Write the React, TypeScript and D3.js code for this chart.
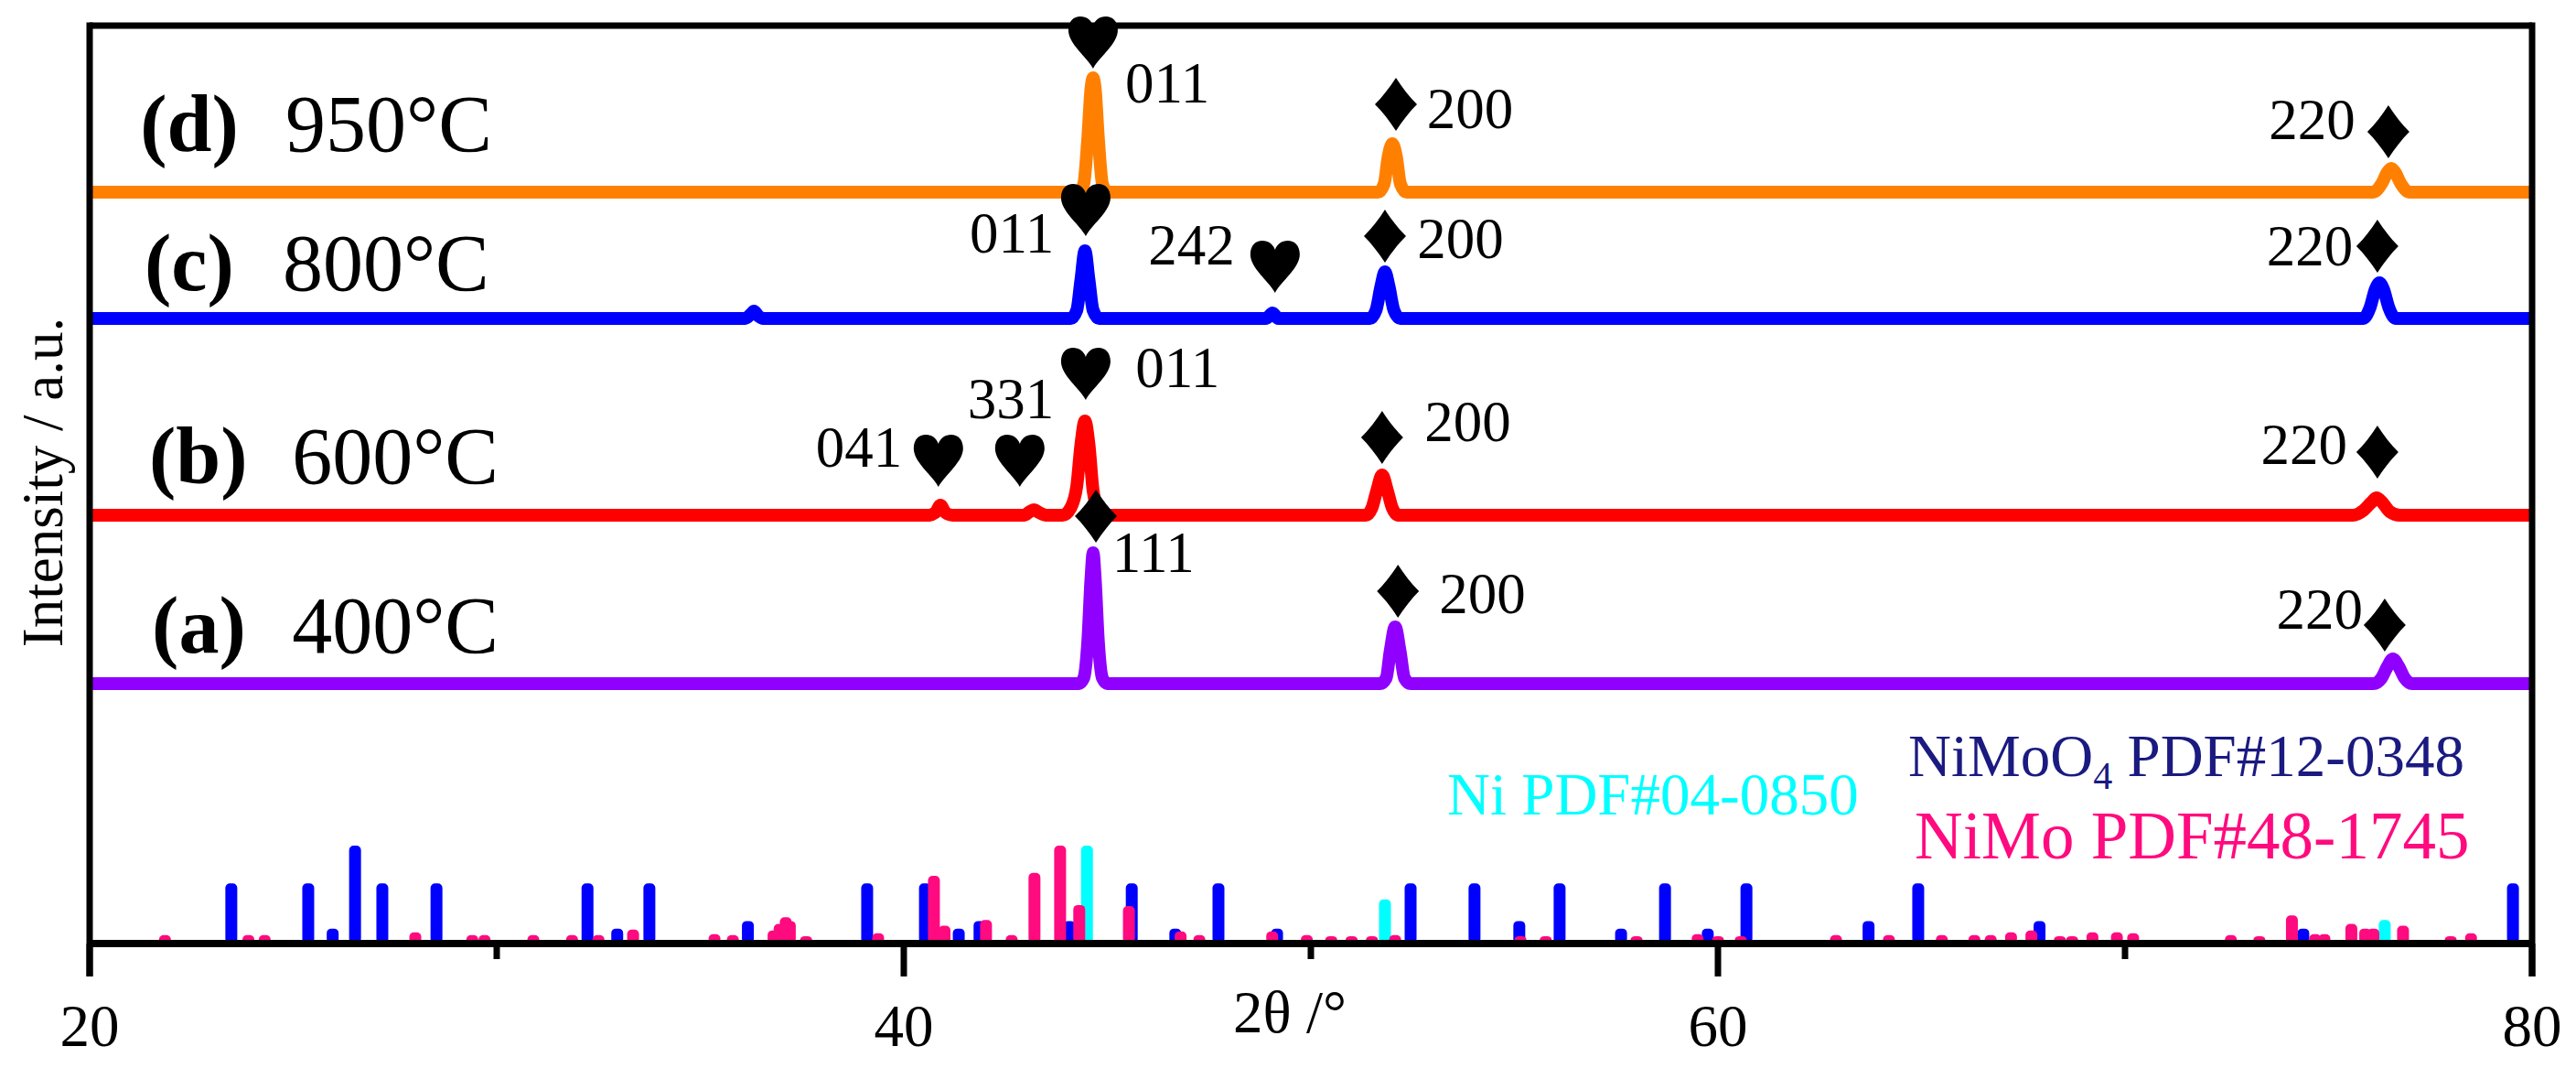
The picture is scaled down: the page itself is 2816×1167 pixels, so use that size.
import React from "react";
import * as d3 from "d3";

// ---------- data ----------
const xTicksMajor = [20, 40, 60, 80];
const xTicksMinor = [30, 50, 70];

// XRD traces: [2θ, intensity (a.u., already offset)]
const trace400 = [
  [20, 284], [44.3, 284], [44.42, 290], [44.52, 330], [44.6, 400], [44.65, 427], [44.7, 400], [44.78, 330], [44.88, 290], [45.0, 284],
  [51.7, 284], [51.85, 290], [51.95, 320], [52.07, 346], [52.19, 320], [52.3, 290], [52.45, 284],
  [76.1, 284], [76.3, 290], [76.45, 303], [76.58, 311], [76.72, 303], [76.87, 290], [77.05, 284],
  [80, 284],
];
const trace600 = [
  [20, 468], [40.6, 468], [40.78, 471], [40.9, 479], [41.02, 471], [41.2, 468],
  [42.95, 468], [43.1, 472], [43.2, 474], [43.32, 471], [43.5, 468],
  [43.9, 468], [44.1, 476], [44.25, 500], [44.35, 545], [44.45, 571], [44.55, 545], [44.65, 495], [44.78, 474], [44.95, 468],
  [51.35, 468], [51.5, 476], [51.62, 495], [51.75, 512], [51.88, 495], [52.0, 476], [52.15, 468],
  [75.6, 468], [75.85, 473], [76.05, 482], [76.18, 487], [76.32, 482], [76.5, 472], [76.75, 468],
  [80, 468],
];
const trace800 = [
  [20, 683], [36.1, 683], [36.25, 688], [36.32, 691], [36.42, 686], [36.55, 683],
  [44.1, 683], [44.25, 692], [44.35, 725], [44.45, 757], [44.55, 725], [44.65, 692], [44.8, 683],
  [48.9, 683], [49.06, 689], [49.2, 683],
  [51.45, 683], [51.6, 692], [51.72, 718], [51.82, 734], [51.92, 718], [52.04, 692], [52.2, 683],
  [75.85, 683], [76.02, 695], [76.15, 715], [76.25, 722], [76.35, 715], [76.48, 695], [76.65, 683],
  [80, 683],
];
const trace950 = [
  [20, 821], [44.3, 821], [44.42, 830], [44.52, 880], [44.6, 935], [44.65, 946], [44.7, 935], [44.78, 880], [44.88, 830], [45.0, 821],
  [51.65, 821], [51.8, 830], [51.9, 860], [52.0, 874], [52.1, 860], [52.2, 830], [52.35, 821],
  [76.1, 821], [76.3, 830], [76.45, 843], [76.54, 847], [76.63, 843], [76.78, 830], [76.98, 821],
  [80, 821],
];

const seriesColors = ["#8F00FF", "#FF0000", "#0000FF", "#FF8000"];
const seriesLetters = ["(a)", "(b)", "(c)", "(d)"];
const seriesTemps = ["400°C", "600°C", "800°C", "950°C"];
// label position: [2θ of letter, 2θ of temperature, baseline intensity]
const seriesLabelPos = [
  [21.53, 24.97, 318],
  [21.46, 24.97, 503],
  [21.35, 24.74, 714],
  [21.24, 24.81, 866],
];

// reference stick patterns: [2θ, relative intensity %]
const niMoO4Sticks = [
  [23.48, 60], [25.37, 60], [25.97, 12], [26.52, 100], [27.19, 60], [28.52, 60], [32.23, 60], [32.96, 12],
  [33.75, 60], [36.17, 20], [39.1, 60], [40.52, 60], [41.35, 12], [41.86, 20], [44.07, 20], [45.6, 60],
  [46.67, 12], [47.73, 60], [49.17, 12], [52.45, 60], [54.02, 60], [55.12, 20], [56.11, 60], [57.62, 12],
  [58.7, 60], [59.75, 12], [60.7, 60], [63.7, 20], [64.92, 60], [67.9, 20], [74.38, 12], [79.53, 60],
];
const niMoSticks = [
  [21.85, 5], [23.9, 5], [24.3, 5], [28.0, 8], [29.4, 5], [29.7, 5], [30.9, 5], [31.85, 5], [32.5, 5],
  [33.35, 11], [35.35, 6], [35.8, 5], [36.8, 10], [36.95, 17], [37.1, 24], [37.2, 20], [37.6, 4], [39.37, 7],
  [40.74, 68], [41.0, 15], [42.02, 21], [42.65, 5], [43.21, 71], [43.84, 100], [44.31, 37], [45.53, 36],
  [46.8, 9], [47.26, 5], [49.05, 9], [49.9, 5], [50.5, 4], [51.0, 4], [51.5, 4], [52.07, 5], [55.15, 4],
  [55.77, 4], [58.0, 4], [59.5, 6], [60.0, 4], [60.56, 4], [62.9, 5], [64.2, 5], [65.5, 5], [66.3, 5],
  [66.7, 5], [67.2, 8], [67.7, 10], [68.4, 4], [68.7, 4], [69.2, 8], [69.8, 8], [70.2, 7], [72.6, 5],
  [73.3, 4], [74.1, 26], [74.67, 6], [74.9, 6], [75.56, 17], [75.9, 12], [76.1, 12], [76.83, 15],
  [78.0, 4], [78.5, 7],
];
const niSticks = [[44.5, 100], [51.82, 43], [76.38, 21]];

// peak markers: [2θ of tip, intensity of tip, type]
const markers = [
  [44.65, 956, "heart"], [52.09, 888, "diamond"], [76.47, 858, "diamond"],
  [44.47, 773, "heart"], [49.12, 711, "heart"], [51.82, 744, "diamond"], [76.2, 733, "diamond"],
  [44.47, 594, "heart"], [42.85, 499, "heart"], [40.85, 499, "heart"], [51.75, 524, "diamond"], [76.2, 508, "diamond"],
  [44.72, 438, "diamond"], [52.14, 356, "diamond"], [76.38, 319, "diamond"],
];
// hkl labels: [text, 2θ, intensity baseline, anchor]
const hklLabels = [
  ["011", 45.44, 919, "start"], ["200", 52.85, 891, "start"], ["220", 75.66, 879, "end"],
  ["011", 43.69, 755, "end"], ["242", 48.13, 742, "end"], ["200", 52.61, 749, "start"], ["220", 75.6, 741, "end"],
  ["011", 45.69, 608, "start"], ["331", 43.69, 574, "end"], ["041", 39.96, 521, "end"], ["200", 52.79, 549, "start"], ["220", 75.46, 524, "end"],
  ["111", 45.12, 406, "start"], ["200", 53.15, 361, "start"], ["220", 75.84, 344, "end"],
];

// ---------- layout ----------
const W = 2816, H = 1167;
const left = 98, right = 2768, top = 28, bottom = 1031;
const SERIF = "'Liberation Serif', 'Times New Roman', serif";

const heartPath =
  "M0,0 C-7,-13 -27,-27 -27,-42 C-27,-52 -21,-57 -14,-57 C-7,-57 -2,-53 0,-47 C2,-53 7,-57 14,-57 C21,-57 27,-52 27,-42 C27,-27 7,-13 0,0 Z";
const diamondPath = "M0,0 C-7,-11 -15,-21 -23,-29 C-15,-37 -7,-47 0,-58 C7,-47 15,-37 23,-29 C15,-21 7,-11 0,0 Z";

export default function App() {
  const x = d3.scaleLinear().domain([20, 80]).range([left, right]);
  const y = d3.scaleLinear().domain([0, 1000]).range([bottom, bottom - 1000]);
  const stickY = d3.scaleLinear().domain([0, 100]).range([1027, 924]);
  const line = d3
    .line<number[]>()
    .x((d) => x(d[0]))
    .y((d) => y(d[1]))
    .curve(d3.curveMonotoneX);

  const traces = [trace400, trace600, trace800, trace950];
  const barW = 13;

  const sticks = (data: number[][], color: string, key: string) =>
    data.map((d, i) => (
      <rect
        key={key + i}
        x={x(d[0]) - barW / 2}
        y={stickY(d[1])}
        width={barW}
        height={stickY(0) - stickY(d[1]) + 4}
        rx={5}
        fill={color}
      />
    ));

  return (
    <svg
      width={W}
      height={H}
      style={{ position: "absolute", left: 0, top: 0, background: "#fff" }}
      fontFamily={SERIF}
    >
      <rect x={0} y={0} width={W} height={H} fill="#fff" />

      {/* traces */}
      {traces.map((t, i) => (
        <path
          key={"t" + i}
          d={line(t as number[][]) || ""}
          fill="none"
          stroke={seriesColors[i]}
          strokeWidth={14}
          strokeLinejoin="round"
        />
      ))}

      {/* reference sticks */}
      {sticks(niSticks, "#00FFFF", "ni")}
      {sticks(niMoO4Sticks, "#0000FF", "nmo")}
      {sticks(niMoSticks, "#FF0A7F", "nm")}

      {/* frame */}
      <g stroke="#000" strokeWidth={7} fill="none">
        <line x1={left} y1={top} x2={right} y2={top} />
        <line x1={left} y1={top - 3.5} x2={left} y2={1067} />
        <line x1={right} y1={top - 3.5} x2={right} y2={1067} />
        <line x1={left} y1={bottom} x2={right} y2={bottom} strokeWidth={8} />
        {xTicksMajor.map((t) => (
          <line key={"M" + t} x1={x(t)} y1={bottom} x2={x(t)} y2={1067} />
        ))}
        {xTicksMinor.map((t) => (
          <line key={"m" + t} x1={x(t)} y1={bottom} x2={x(t)} y2={1048} />
        ))}
      </g>

      {/* tick labels */}
      {xTicksMajor.map((t) => (
        <text key={"tl" + t} x={x(t)} y={1143} fontSize={65} textAnchor="middle" fill="#000">
          {t}
        </text>
      ))}
      <text x={1410} y={1128} fontSize={65} textAnchor="middle" fill="#000">
        2θ /°
      </text>
      <text
        transform="translate(68,527) rotate(-90)"
        fontSize={63}
        textAnchor="middle"
        fill="#000"
      >
        Intensity / a.u.
      </text>

      {/* series labels */}
      {seriesLabelPos.map((p, i) => (
        <g key={"sl" + i} fill="#000">
          <text x={x(p[0])} y={y(p[2])} fontSize={88} fontWeight="bold">
            {seriesLetters[i]}
          </text>
          <text x={x(p[1])} y={y(p[2])} fontSize={88}>
            {seriesTemps[i]}
          </text>
        </g>
      ))}

      {/* markers */}
      {markers.map((m, i) => (
        <path
          key={"mk" + i}
          transform={`translate(${x(m[0] as number)},${y(m[1] as number)})`}
          d={m[2] === "heart" ? heartPath : diamondPath}
          fill="#000"
        />
      ))}
      {hklLabels.map((l, i) => (
        <text
          key={"hk" + i}
          x={x(l[1] as number)}
          y={y(l[2] as number)}
          fontSize={63}
          textAnchor={l[3] as string}
          fill="#000"
        >
          {l[0]}
        </text>
      ))}

      {/* legend texts */}
      <text x={1582} y={890} fontSize={65} fill="#00FFFF">
        Ni PDF#04-0850
      </text>
      <text x={2086} y={848} fontSize={65} fill="#1A1A80">
        NiMoO
        <tspan fontSize={42} dy={14}>4</tspan>
        <tspan dy={-14}> PDF#12-0348</tspan>
      </text>
      <text x={2093} y={938} fontSize={73} fill="#FF0A7F">
        NiMo PDF#48-1745
      </text>
    </svg>
  );
}
